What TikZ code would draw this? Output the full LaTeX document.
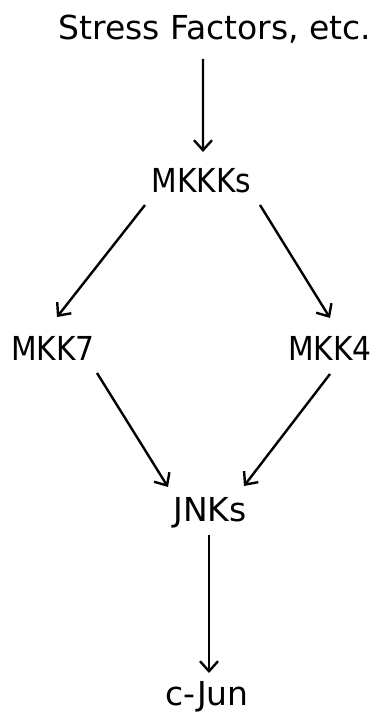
\documentclass[tikz,border=0pt]{standalone}
\usepackage{fontspec}
\setmainfont{DejaVu Sans}
\newfontfamily\narrowsans{DejaVu Sans}[FakeStretch=0.9]
\usetikzlibrary{arrows.meta}
\begin{document}
\begin{tikzpicture}[x=1bp,y=-1bp,
  lbl/.style={anchor=base,inner sep=0pt,font=\fontsize{33bp}{40bp}\selectfont},
  kin/.style={lbl,font=\fontsize{33bp}{40bp}\narrowsans},
  arr/.style={line width=2.4bp,-{Straight Barb[length=10bp,width=18bp,line width=2.4bp]}}]
\useasboundingbox (0,0) rectangle (378,714);
% signalling cascade
\node[lbl] (stress) at (215,40) {Stress Factors, etc.};
\node[kin] (mkkks) at (201.5,192) {MKKKs};
\node[kin] (mkk7) at (53,360) {MKK7};
\node[kin] (mkk4) at (330,360) {MKK4};
\node[lbl] (jnks) at (210,521) {JNKs};
\node[lbl] (cjun) at (207,705) {c-Jun};
% activation arrows
\draw[arr] ([shift={(-12,19)}]stress.base) -- ([shift={(1.5,-40)}]mkkks.base);
\draw[arr] ([shift={(-56.5,13)}]mkkks.base) -- ([shift={(4,-43)}]mkk7.base);
\draw[arr] ([shift={(58.5,13)}]mkkks.base) -- ([shift={(0,-42)}]mkk4.base);
\draw[arr] ([shift={(44,13)}]mkk7.base) -- ([shift={(-42,-34)}]jnks.base);
\draw[arr] ([shift={(0,14)}]mkk4.base) -- ([shift={(34,-35)}]jnks.base);
\draw[arr] ([shift={(-1,14)}]jnks.base) -- ([shift={(2,-32)}]cjun.base);
\end{tikzpicture}
\end{document}
